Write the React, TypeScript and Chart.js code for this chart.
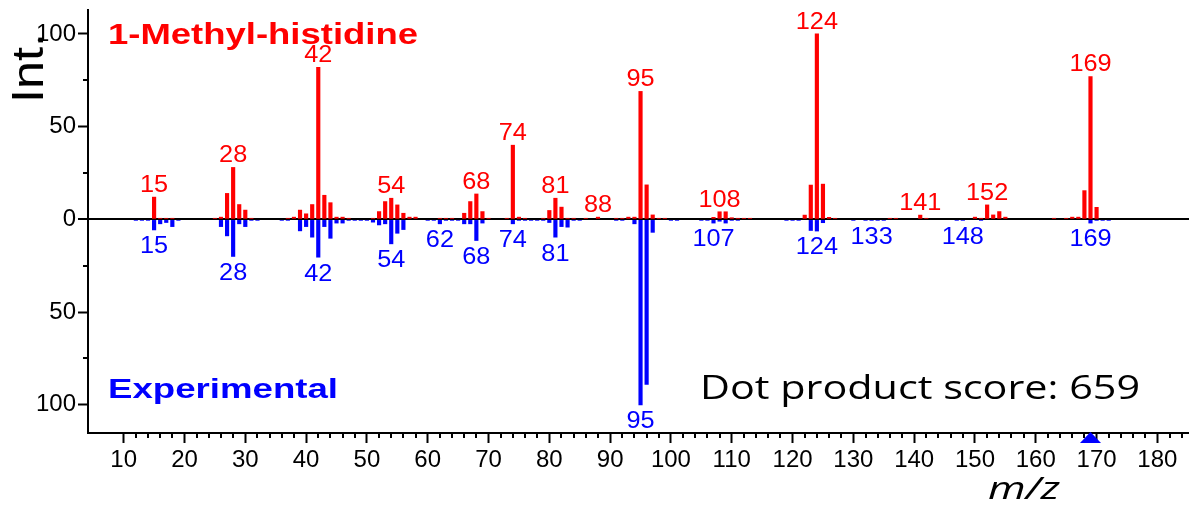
import React, { useEffect, useRef } from "react";
import { Chart, registerables } from "chart.js";

Chart.register(...registerables);

// ---------- data ----------
const libraryMz = [
  15, 16, 17, 18, 25, 26, 27, 28, 29, 30, 31, 37, 38, 39, 40, 41, 42, 43, 44, 45, 46, 47,
  51, 52, 53, 54, 55, 56, 57, 58, 62, 63, 64, 66, 67, 68, 69, 70, 73, 74, 75, 76, 79, 80,
  81, 82, 83, 84, 86, 88, 91, 92, 93, 94, 95, 96, 97, 98, 99, 107, 108, 109, 110, 111, 112,
  113, 122, 123, 124, 125, 126, 127, 136, 137, 141, 142, 150, 151, 152, 153, 154, 155, 163,
  165, 166, 167, 168, 169, 170,
];
const libraryIntensity = [
  12, 0.6, 0.6, 0.6, 0.6, 1.2, 14, 28, 8, 5, 0.6, 0.6, 1.2, 5, 3, 8, 82, 13, 9, 1.2, 1.2, 0.6,
  0.6, 4.2, 9.6, 11.4, 7.8, 3.3, 1.2, 1.2, 0.6, 0.6, 0.6, 3.3, 9.6, 13.7, 4.2, 0.6, 0.6, 40, 1.2, 0.6, 0.6, 4.8,
  11.4, 6.6, 0.6, 0.6, 0.6, 1.2, 0.6, 0.6, 1.2, 1.2, 69, 18.6, 2.4, 0.6, 0.6, 1.1, 4.1, 4.1, 0.9, 0.6, 0.6,
  0.6, 2.3, 18.5, 100, 19, 1.1, 0.6, 0.6, 0.6, 2.3, 0.6, 1.2, 0.6, 7.8, 2.4, 4.2, 1.2, 0.6,
  0.6, 1.2, 1.2, 15.5, 77, 6.5,
];
const experimentalMz = [
  12, 13, 14, 15, 16, 17, 18, 19, 26, 27, 28, 29, 30, 31, 32, 36, 37, 39, 40, 41, 42, 43, 44,
  45, 46, 47, 48, 49, 50, 51, 52, 53, 54, 55, 56, 60, 61, 62, 63, 64, 65, 66, 67, 68, 69, 74,
  75, 76, 77, 78, 79, 80, 81, 82, 83, 84, 85, 91, 92, 94, 95, 96, 97, 100, 101, 105, 106, 107,
  108, 109, 110, 111, 119, 120, 121, 123, 124, 125, 130, 132, 133, 134, 135, 147, 148, 151,
  169, 170, 171, 172,
];
const experimentalIntensity = [
  0.5, 0.5, 0.5, 5.7, 2.4, 1.7, 3.9, 0.5, 3.9, 8.9, 20, 2.4, 3.9, 0.5, 0.5, 0.5, 0.5, 6.2, 3.9, 9.6, 20.4, 3.9, 10.2,
  2, 2, 0.5, 0.5, 0.5, 0.5, 1.5, 3, 2.4, 13.2, 7.5, 5.5, 0.5, 0.5, 2.4, 0.5, 0.5, 0.5, 2.4, 2.4, 11.4, 2, 2.4,
  0.5, 0.5, 0.5, 0.5, 0.5, 1.7, 9.6, 3.9, 4.2, 0.5, 0.5, 0.5, 0.5, 2.4, 100, 89, 7, 0.5, 0.5, 0.5, 0.5, 2,
  1, 2, 0.5, 0.5, 0.5, 0.5, 0.5, 6, 6.3, 1.8, 0.5, 0.5, 0.5, 0.5, 0.5, 0.5, 0.5, 0.5,
  2, 0.5, 0.5, 0.5,
];
const libraryLabelMz = [15, 28, 42, 54, 68, 74, 81, 88, 95, 108, 124, 141, 152, 169];
const experimentalLabelMz = [15, 28, 42, 54, 62, 68, 74, 81, 95, 107, 124, 133, 148, 169];
const xTickValues = [10, 20, 30, 40, 50, 60, 70, 80, 90, 100, 110, 120, 130, 140, 150, 160, 170, 180];
const yTickValues = [-100, -50, 0, 50, 100];
const yMinorTickValues = [-75, -25, 25, 75];
const precursorMz = 169;
const libraryName = "1-Methyl-histidine";
const experimentalName = "Experimental";
const scoreText = "Dot product score: 659";
const xTitle = "m/z";
const yTitle = "Int.";

// ---------- styles ----------
const RED = "#ff0000";
const BLUE = "#0000ff";
const SANS = "'Liberation Sans', Arial, Helvetica, sans-serif";
const OPEN = "'Open Sans', 'Noto Sans', sans-serif";

function fitText(
  ctx: CanvasRenderingContext2D,
  text: string,
  font: string,
  color: string,
  left: number,
  baseline: number,
  targetWidth: number
) {
  ctx.save();
  ctx.font = font;
  ctx.fillStyle = color;
  ctx.textAlign = "left";
  ctx.textBaseline = "alphabetic";
  const w = ctx.measureText(text).width;
  ctx.translate(left, baseline);
  ctx.scale(targetWidth / w, 1);
  ctx.fillText(text, 0, 0);
  ctx.restore();
}

function stretchedCenter(
  ctx: CanvasRenderingContext2D,
  text: string,
  cx: number,
  cy: number,
  sx: number
) {
  ctx.save();
  ctx.translate(cx, cy);
  ctx.scale(sx, 1);
  ctx.textAlign = "center";
  ctx.textBaseline = "middle";
  ctx.fillText(text, 0, 0);
  ctx.restore();
}

const annotationPlugin = {
  id: "spectrumAnnotations",
  afterDraw(chart: any) {
    const ctx: CanvasRenderingContext2D = chart.ctx;
    const x = chart.scales.x;
    const y = chart.scales.y;
    const area = chart.chartArea;

    // minor ticks
    ctx.save();
    ctx.strokeStyle = "#000";
    ctx.lineWidth = 2;
    ctx.beginPath();
    for (const v of yMinorTickValues) {
      const py = Math.round(y.getPixelForValue(v));
      ctx.moveTo(area.left - 5, py);
      ctx.lineTo(area.left, py);
    }
    for (let i = 0; i < xTickValues.length; i++) {
      const start = xTickValues[i];
      for (let k = 2; k < 10; k += 2) {
        const m = start + k;
        if (m > x.max) break;
        const px = Math.round(x.getPixelForValue(m));
        ctx.moveTo(px, area.bottom);
        ctx.lineTo(px, area.bottom + 5);
      }
    }
    ctx.stroke();
    ctx.restore();

    // peak labels
    ctx.save();
    ctx.font = `23px ${SANS}`;
    ctx.fillStyle = RED;
    for (const m of libraryLabelMz) {
      const idx = libraryMz.indexOf(m);
      if (idx < 0) continue;
      const px = x.getPixelForValue(m);
      const py = y.getPixelForValue(libraryIntensity[idx]);
      stretchedCenter(ctx, String(m), px, py - 11.5, 1.1);
    }
    ctx.fillStyle = BLUE;
    for (const m of experimentalLabelMz) {
      const idx = experimentalMz.indexOf(m);
      if (idx < 0) continue;
      const px = x.getPixelForValue(m);
      const py = y.getPixelForValue(-experimentalIntensity[idx]);
      stretchedCenter(ctx, String(m), px, py + 17, 1.1);
    }
    ctx.restore();

    // titles
    fitText(ctx, libraryName, `bold 29px ${SANS}`, RED, 108, 44, 310);
    fitText(ctx, experimentalName, `bold 28px ${SANS}`, BLUE, 108, 398, 230);
    fitText(ctx, scoreText, `33px ${OPEN}`, "#000", 700, 399, 440);
    fitText(ctx, xTitle, `italic 31px ${OPEN}`, "#000", 988, 499, 72);

    // y title (rotated)
    ctx.save();
    ctx.font = `44px ${SANS}`;
    ctx.fillStyle = "#000";
    const w = ctx.measureText(yTitle).width;
    ctx.translate(43, 68);
    ctx.rotate(-Math.PI / 2);
    ctx.scale(70 / w, 1);
    ctx.textAlign = "center";
    ctx.textBaseline = "alphabetic";
    ctx.fillText(yTitle, 0, 0);
    ctx.restore();

    // precursor marker
    const tx = x.getPixelForValue(precursorMz);
    ctx.save();
    ctx.fillStyle = BLUE;
    ctx.beginPath();
    ctx.moveTo(tx, area.bottom - 1);
    ctx.lineTo(tx - 10.5, area.bottom + 10);
    ctx.lineTo(tx + 10.5, area.bottom + 10);
    ctx.closePath();
    ctx.fill();
    ctx.restore();
  },
};

export default function App() {
  const canvasRef = useRef<HTMLCanvasElement | null>(null);

  useEffect(() => {
    document.body.style.margin = "0";
    const canvas = canvasRef.current;
    if (!canvas) return;
    const chart = new Chart(canvas, {
      type: "bar",
      data: {
        datasets: [
          {
            label: libraryName,
            data: libraryMz.map((m, i) => ({ x: m, y: libraryIntensity[i] })),
            backgroundColor: RED,
            barThickness: 3.5,
            grouped: false,
          } as any,
          {
            label: experimentalName,
            data: experimentalMz.map((m, i) => ({ x: m, y: -experimentalIntensity[i] })),
            backgroundColor: BLUE,
            barThickness: 3.5,
            grouped: false,
          } as any,
        ],
      },
      options: {
        responsive: false,
        animation: false,
        devicePixelRatio: 1,
        layout: { padding: { top: 10, right: 0, left: 0, bottom: 0 } },
        plugins: {
          legend: { display: false },
          tooltip: { enabled: false },
        },
        scales: {
          x: {
            type: "linear",
            min: 4.13,
            max: 185.2,
            offset: false,
            afterFit: (scale: any) => {
              scale.height = 73;
              scale.paddingLeft = 0;
              scale.paddingRight = 0;
            },
            afterBuildTicks: (scale: any) => {
              scale.ticks = xTickValues.map((v) => ({ value: v }));
            },
            grid: {
              offset: false,
              display: true,
              drawOnChartArea: false,
              drawTicks: true,
              tickLength: 10,
              tickWidth: 2,
              tickColor: "#000",
            },
            border: { display: true, color: "#000", width: 2 },
            ticks: {
              autoSkip: false,
              maxRotation: 0,
              padding: 3,
              color: "#000",
              font: { family: SANS, size: 24 },
              callback: (v: any) => String(v),
            },
          },
          y: {
            type: "linear",
            min: -115.2,
            max: 112.9,
            z: 1,
            afterFit: (scale: any) => {
              scale.width = 88;
              scale.paddingTop = 0;
              scale.paddingBottom = 0;
            },
            afterBuildTicks: (scale: any) => {
              scale.ticks = yTickValues.map((v) => ({ value: v }));
            },
            grid: {
              display: true,
              drawOnChartArea: true,
              drawTicks: true,
              tickLength: 10,
              tickWidth: 2,
              tickColor: "#000",
              color: (c: any) => (c.tick && c.tick.value === 0 ? "#000" : "rgba(0,0,0,0)"),
              lineWidth: (c: any) => (c.tick && c.tick.value === 0 ? 2 : 1),
            },
            border: { display: true, color: "#000", width: 2 },
            ticks: {
              padding: 2,
              color: "#000",
              font: { family: SANS, size: 24 },
              callback: (v: any) => String(Math.abs(Number(v))),
            },
          },
        },
      } as any,
      plugins: [annotationPlugin],
    });
    return () => chart.destroy();
  }, []);

  return (
    <div style={{ position: "fixed", left: 0, top: 0, width: 1189, height: 506, background: "#fff" }}>
      <canvas ref={canvasRef} width={1189} height={506} style={{ width: 1189, height: 506, display: "block" }} />
    </div>
  );
}
